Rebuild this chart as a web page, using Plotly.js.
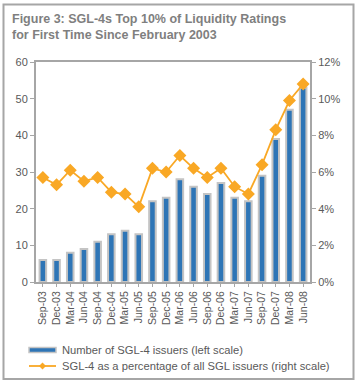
<!DOCTYPE html>
<html>
<head>
<meta charset="utf-8">
<script src="https://cdn.plot.ly/plotly-3.0.1.min.js"></script>
<style>
html,body{margin:0;padding:0;background:#fff;}
#chart{width:358px;height:384px;}
</style>
</head>
<body>
<div id="chart"></div>
<script>
var categories = ["Sep-03","Dec-03","Mar-04","Jun-04","Sep-04","Dec-04","Mar-05","Jun-05","Sep-05","Dec-05","Mar-06","Jun-06","Sep-06","Dec-06","Mar-07","Jun-07","Sep-07","Dec-07","Mar-08","Jun-08"];
var issuers = [6,6,8,9,11,13,14,13,22,23,28,26,24,27,23,22,29,39,47,53];
var pctIssuers = [5.7,5.3,6.1,5.5,5.7,4.9,4.8,4.1,6.2,6.0,6.9,6.2,5.7,6.2,5.2,4.8,6.4,8.3,9.9,10.8];
var leftTicks = [0,10,20,30,40,50,60];
var rightTicks = [0,2,4,6,8,10,12];
var rightTickText = ["0%","2%","4%","6%","8%","10%","12%"];
var seriesNames = ["Number of SGL-4 issuers (left scale)", "SGL-4 as a percentage of all SGL issuers (right scale)"];

var L = 36, R = 48, T = 62, B = 102, W = 358, H = 384;
var pw = W - L - R, ph = H - T - B;
function px(x){return (x - L)/pw;}
function py(y){return (H - B - y)/ph;}

var barColor = "#2E75B6", barLine = "#C4C4C4", lineColor = "#F9A825";

var traces = [
  {
    type: "bar", x: categories, y: issuers, name: seriesNames[0],
    marker: {color: barColor, line: {color: barLine, width: 2}},
    yaxis: "y", hoverinfo: "none"
  },
  {
    type: "scatter", mode: "lines+markers", x: categories, y: pctIssuers,
    name: seriesNames[1],
    line: {color: lineColor, width: 1.8},
    marker: {symbol: "diamond", size: 10, color: lineColor},
    yaxis: "y2", hoverinfo: "none"
  }
];

var fam = "Liberation Sans, Arial, sans-serif";
var axisFont = {family: fam, size: 11, color: "#595959"};

var lx0 = 29, lx1 = 56, ly1 = 350, ly2 = 366;
var dcx = (lx0 + lx1) / 2, dr = 3.5;
function diamondPath(cx, cy, r){
  return "M" + px(cx) + "," + py(cy - r) + " L" + px(cx + r) + "," + py(cy) + " L" + px(cx) + "," + py(cy + r) + " L" + px(cx - r) + "," + py(cy) + " Z";
}

var layout = {
  width: W, height: H,
  margin: {l: L, r: R, t: T, b: B, pad: 0, autoexpand: false},
  paper_bgcolor: "#fff", plot_bgcolor: "#fff",
  showlegend: false,
  bargap: 0.52,
  font: axisFont,
  xaxis: {
    type: "category", tickangle: -90, showgrid: false, automargin: false,
    showline: true, linecolor: "#A6A6A6", linewidth: 2, mirror: true,
    ticks: "outside", ticklen: 3, tickcolor: "#A6A6A6",
    tickfont: {family: fam, size: 10.5, color: "#595959"},
    range: [-0.5, 19.5]
  },
  yaxis: {
    range: [0, 60], tickvals: leftTicks, showgrid: false, zeroline: false, automargin: false,
    showline: true, linecolor: "#A6A6A6", linewidth: 2,
    ticks: "outside", ticklen: 4, tickcolor: "#A6A6A6",
    tickfont: axisFont
  },
  yaxis2: {
    range: [0, 12], overlaying: "y", side: "right", automargin: false,
    tickvals: rightTicks, ticktext: rightTickText, showgrid: false, zeroline: false,
    showline: true, linecolor: "#A6A6A6", linewidth: 2,
    ticks: "outside", ticklen: 4, tickcolor: "#A6A6A6",
    tickfont: axisFont
  },
  annotations: [
    {
      xref: "paper", yref: "paper", x: px(10), y: py(10), xanchor: "left", yanchor: "top",
      showarrow: false, align: "left",
      text: "<b>Figure 3: SGL-4s Top 10% of Liquidity Ratings<br>for First Time Since February 2003</b>",
      font: {family: fam, size: 12.5, color: "#7F7F7F"}
    },
    {
      xref: "paper", yref: "paper", x: px(60), y: py(ly1), xanchor: "left", yanchor: "middle",
      showarrow: false, text: seriesNames[0], font: {family: fam, size: 11.2, color: "#595959"}
    },
    {
      xref: "paper", yref: "paper", x: px(60), y: py(ly2), xanchor: "left", yanchor: "middle",
      showarrow: false, text: seriesNames[1], font: {family: fam, size: 11.2, color: "#595959"}
    }
  ],
  shapes: [
    {
      type: "rect", xref: "paper", yref: "paper",
      x0: px(3.5), x1: px(353.5), y0: py(379), y1: py(4.5),
      line: {color: "#A6A6A6", width: 2}, fillcolor: "rgba(0,0,0,0)", layer: "below"
    },
    {
      type: "rect", xref: "paper", yref: "paper",
      x0: px(lx0), x1: px(lx1), y0: py(ly1 + 2.5), y1: py(ly1 - 2.5),
      line: {color: barLine, width: 1.5}, fillcolor: barColor
    },
    {
      type: "line", xref: "paper", yref: "paper",
      x0: px(lx0), x1: px(lx1), y0: py(ly2), y1: py(ly2),
      line: {color: lineColor, width: 1.8}
    },
    {
      type: "path", xref: "paper", yref: "paper",
      path: diamondPath(dcx, ly2, dr),
      line: {color: lineColor, width: 0}, fillcolor: lineColor
    }
  ]
};

Plotly.newPlot("chart", traces, layout, {displayModeBar: false, staticPlot: true});
</script>
</body>
</html>
